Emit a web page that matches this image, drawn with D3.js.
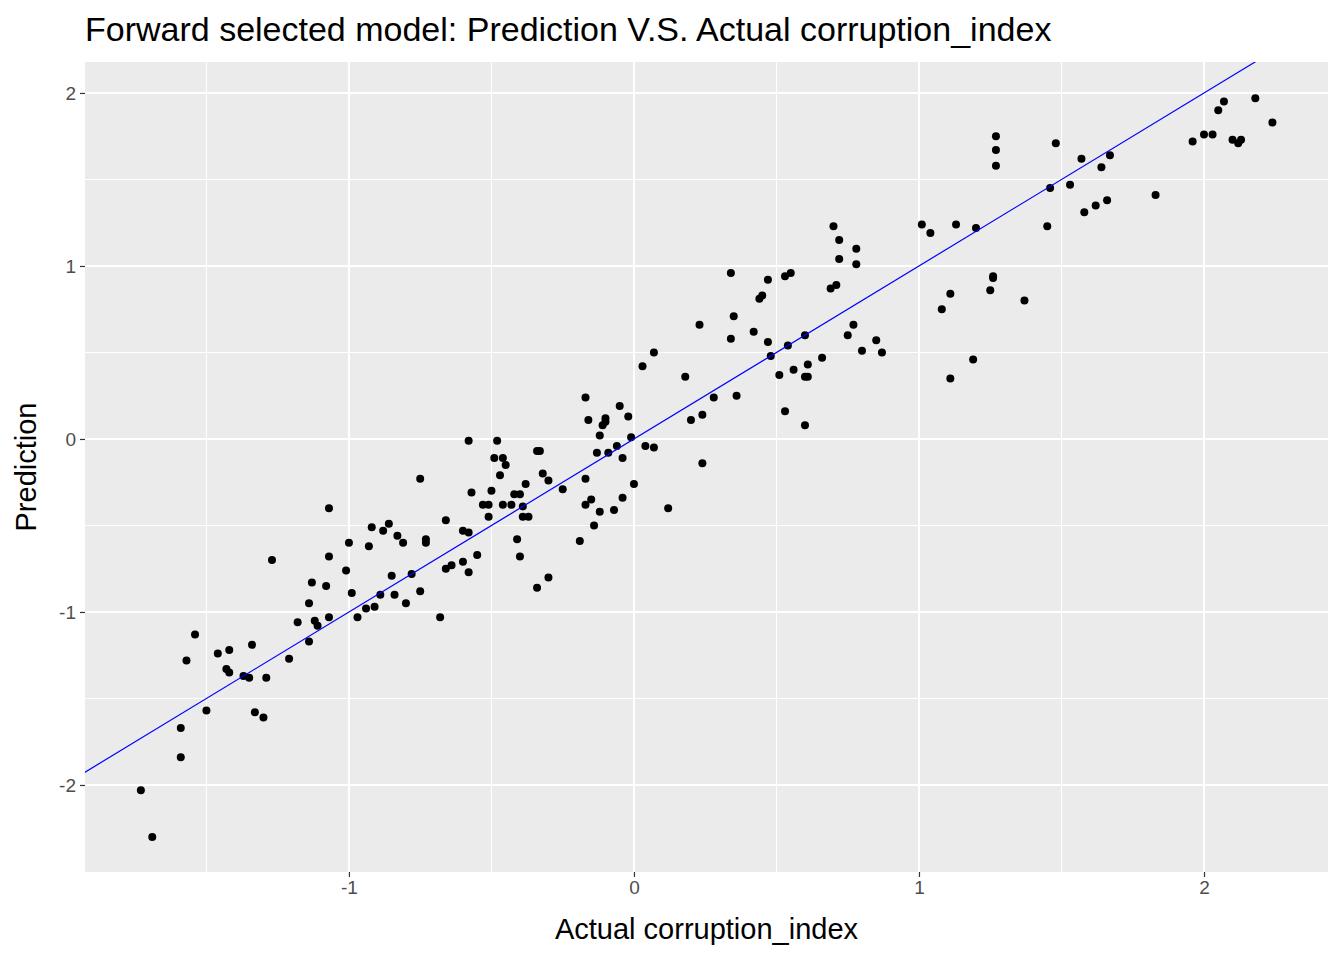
<!DOCTYPE html>
<html><head><meta charset="utf-8">
<script src="https://cdn.jsdelivr.net/npm/d3@7"></script>
<style>body{margin:0;background:#fff}svg{font-family:"Liberation Sans",Arial,sans-serif}</style>
</head><body><svg id="c" width="1344" height="960"></svg>
<script>
const actual=[-1.73,-1.69,-1.59,-1.59,-1.57,-1.54,-1.50,-1.46,-1.43,-1.42,-1.42,-1.37,-1.35,-1.34,-1.33,-1.30,-1.29,-1.27,-1.21,-1.18,-1.14,-1.14,-1.13,-1.12,-1.11,-1.08,-1.07,-1.07,-1.07,-1.01,-1.00,-0.99,-0.97,-0.94,-0.93,-0.92,-0.91,-0.89,-0.88,-0.86,-0.85,-0.84,-0.83,-0.81,-0.80,-0.78,-0.75,-0.75,-0.73,-0.73,-0.68,-0.66,-0.66,-0.64,-0.60,-0.60,-0.58,-0.58,-0.58,-0.57,-0.55,-0.53,-0.51,-0.51,-0.50,-0.49,-0.48,-0.47,-0.46,-0.46,-0.45,-0.43,-0.42,-0.41,-0.40,-0.40,-0.39,-0.39,-0.38,-0.37,-0.34,-0.34,-0.33,-0.32,-0.30,-0.30,-0.25,-0.19,-0.17,-0.17,-0.17,-0.16,-0.15,-0.14,-0.13,-0.12,-0.12,-0.11,-0.10,-0.10,-0.09,-0.07,-0.06,-0.05,-0.04,-0.04,-0.02,-0.01,0.00,0.03,0.04,0.07,0.07,0.12,0.18,0.20,0.23,0.24,0.24,0.28,0.34,0.34,0.35,0.36,0.42,0.44,0.45,0.47,0.47,0.48,0.51,0.53,0.53,0.54,0.55,0.56,0.60,0.60,0.60,0.61,0.61,0.66,0.69,0.70,0.71,0.72,0.72,0.75,0.77,0.78,0.78,0.80,0.85,0.87,1.01,1.04,1.08,1.11,1.11,1.13,1.19,1.20,1.25,1.26,1.26,1.27,1.27,1.27,1.37,1.45,1.46,1.48,1.53,1.57,1.58,1.62,1.64,1.66,1.67,1.83,1.96,2.00,2.03,2.05,2.07,2.10,2.12,2.13,2.18,2.24];
const prediction=[-2.03,-2.30,-1.67,-1.84,-1.28,-1.13,-1.57,-1.24,-1.33,-1.22,-1.35,-1.37,-1.38,-1.19,-1.58,-1.61,-1.38,-0.70,-1.27,-1.06,-1.17,-0.95,-0.83,-1.05,-1.08,-0.85,-0.68,-0.40,-1.03,-0.76,-0.60,-0.89,-1.03,-0.98,-0.62,-0.51,-0.97,-0.90,-0.53,-0.49,-0.79,-0.90,-0.56,-0.60,-0.95,-0.78,-0.23,-0.88,-0.58,-0.60,-1.03,-0.47,-0.75,-0.73,-0.53,-0.71,-0.01,-0.77,-0.54,-0.31,-0.67,-0.38,-0.38,-0.45,-0.30,-0.11,-0.01,-0.21,-0.38,-0.11,-0.15,-0.38,-0.32,-0.58,-0.32,-0.68,-0.45,-0.39,-0.26,-0.45,-0.07,-0.86,-0.07,-0.20,-0.80,-0.24,-0.29,-0.59,0.24,-0.23,-0.38,0.11,-0.35,-0.50,-0.08,-0.42,0.02,0.08,0.12,0.10,-0.08,-0.41,-0.04,0.19,-0.11,-0.34,0.13,0.01,-0.26,0.42,-0.04,0.50,-0.05,-0.40,0.36,0.11,0.66,0.14,-0.14,0.24,0.58,0.96,0.71,0.25,0.62,0.81,0.83,0.92,0.56,0.48,0.37,0.16,0.94,0.54,0.96,0.40,0.60,0.08,0.36,0.43,0.36,0.47,0.87,1.23,0.89,1.04,1.15,0.60,0.66,1.10,1.01,0.51,0.57,0.50,1.24,1.19,0.75,0.35,0.84,1.24,0.46,1.22,0.86,0.93,0.94,1.75,1.67,1.58,0.80,1.23,1.45,1.71,1.47,1.62,1.31,1.35,1.57,1.38,1.64,1.41,1.72,1.76,1.76,1.90,1.95,1.73,1.71,1.73,1.97,1.83];
const xTicks=[-1,0,1,2], yTicks=[-2,-1,0,1,2];
const title="Forward selected model: Prediction V.S. Actual corruption_index";

const L=85,R=1328,T=62,B=872;
const x=d3.scaleLinear().domain([-1.926,2.435]).range([L,R]);
const y=d3.scaleLinear().domain([-2.503,2.179]).range([B,T]);
const svg=d3.select("#c");
svg.append("rect").attr("x",L).attr("y",T).attr("width",R-L).attr("height",B-T).attr("fill","#EBEBEB");
const g=svg.append("g");
const xMinor=[-1.5,-0.5,0.5,1.5], yMinor=[-1.5,-0.5,0.5,1.5];
g.selectAll(".xm").data(xMinor).join("line").attr("x1",d=>x(d)).attr("x2",d=>x(d)).attr("y1",T).attr("y2",B).attr("stroke","#fff").attr("stroke-width",1);
g.selectAll(".ym").data(yMinor).join("line").attr("y1",d=>y(d)).attr("y2",d=>y(d)).attr("x1",L).attr("x2",R).attr("stroke","#fff").attr("stroke-width",1);
g.selectAll(".xM").data(xTicks).join("line").attr("x1",d=>x(d)).attr("x2",d=>x(d)).attr("y1",T).attr("y2",B).attr("stroke","#fff").attr("stroke-width",2);
g.selectAll(".yM").data(yTicks).join("line").attr("y1",d=>y(d)).attr("y2",d=>y(d)).attr("x1",L).attr("x2",R).attr("stroke","#fff").attr("stroke-width",2);
svg.append("defs").append("clipPath").attr("id","cp").append("rect").attr("x",L).attr("y",T).attr("width",R-L).attr("height",B-T);
svg.append("g").selectAll("circle").data(actual).join("circle")
 .attr("cx",d=>x(d)).attr("cy",(d,i)=>y(prediction[i])).attr("r",4).attr("fill","#000");
svg.append("line").attr("clip-path","url(#cp)").attr("x1",x(-3)).attr("y1",y(-3)).attr("x2",x(3)).attr("y2",y(3)).attr("stroke","#0000FF").attr("stroke-width",1.2);
const xa=svg.append("g").attr("transform",`translate(0,${B})`).call(d3.axisBottom(x).tickValues(xTicks).tickSize(5).tickPadding(4).tickFormat(d3.format("d")));
const ya=svg.append("g").attr("transform",`translate(${L},0)`).call(d3.axisLeft(y).tickValues(yTicks).tickSize(5).tickPadding(4).tickFormat(d3.format("d")));
[xa,ya].forEach(a=>{a.select(".domain").remove();a.selectAll("line").attr("stroke","#333").attr("stroke-width",1.2);a.selectAll("text").attr("fill","#4D4D4D").style("font-size","19px").text(function(){return this.textContent.replace("−","-");});});
svg.append("text").attr("x",(L+R)/2).attr("y",939).attr("text-anchor","middle").style("font-size","29px").text("Actual corruption_index");
svg.append("text").attr("transform",`translate(36,${(T+B)/2}) rotate(-90)`).attr("text-anchor","middle").style("font-size","29px").text("Prediction");
svg.append("text").attr("x",L).attr("y",41).style("font-size","34px").text(title);
</script></body></html>
